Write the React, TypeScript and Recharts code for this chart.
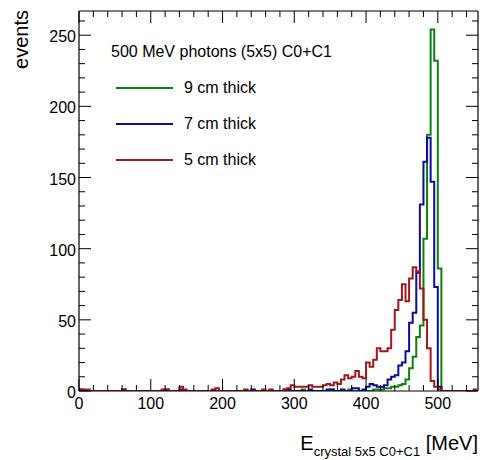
import React from 'react';
import { LineChart, Line, XAxis, YAxis, Legend } from 'recharts';

const FONT = '"Liberation Sans", Arial, Helvetica, sans-serif';
const BIN = 5; // MeV per bin
const X_MAX = 556;
const Y_MAX = 267;

// non-empty bins: [low edge in MeV, events]
const thick9: [number, number][] = [
  [310, 1], [350, 1], [375, 1], [410, 1], [415, 1], [420, 1], [425, 2], [430, 2],
  [435, 3], [440, 3], [445, 4], [450, 5], [455, 8], [460, 16], [465, 24], [470, 38],
  [475, 46], [480, 107], [485, 180], [490, 254], [495, 232], [500, 86],
];

const thick7: [number, number][] = [
  [0, 1], [60, 1], [120, 1], [140, 1], [240, 1], [285, 1], [290, 1], [320, 1],
  [345, 1], [350, 1], [365, 1], [380, 2], [385, 2], [395, 1], [400, 3], [405, 5],
  [410, 4], [415, 3], [420, 3], [425, 4], [430, 8], [435, 10], [440, 11], [445, 18],
  [450, 20], [455, 28], [460, 48], [465, 55], [470, 83], [475, 131], [480, 161],
  [485, 178], [490, 147], [495, 73], [500, 3],
];

const thick5: [number, number][] = [
  [0, 1], [5, 1], [10, 1], [60, 1], [115, 1], [120, 1], [140, 3], [145, 1],
  [185, 1], [190, 2], [230, 1], [255, 1], [265, 1], [285, 1], [290, 2], [295, 4],
  [300, 3], [305, 3], [310, 3], [315, 3], [320, 4], [325, 3], [330, 3], [335, 3],
  [340, 4], [345, 5], [350, 4], [355, 6], [360, 5], [365, 8], [370, 11], [375, 9],
  [380, 10], [385, 14], [390, 10], [395, 9], [400, 20], [405, 17], [410, 22], [415, 30],
  [420, 28], [425, 28], [430, 30], [435, 43], [440, 57], [445, 64], [450, 75], [455, 63],
  [460, 79], [465, 87], [470, 84], [475, 72], [480, 50], [485, 30], [490, 7], [495, 3],
  [500, 1], [550, 1],
];

const series = [
  { key: 't9', name: '9 cm thick', color: '#0b820b', bins: thick9 },
  { key: 't7', name: '7 cm thick', color: '#0c0c9c', bins: thick7 },
  { key: 't5', name: '5 cm thick', color: '#a3161a', bins: thick5 },
];

const xLabels = [0, 100, 200, 300, 400, 500];
const yLabels = [0, 50, 100, 150, 200, 250];
const xTicks = Array.from({ length: 28 }, (_, i) => i * 20);
const yTicks = Array.from({ length: 27 }, (_, i) => i * 10);

// histogram edges 0..555, last edge repeats the last bin so the step closes
const edges = Array.from({ length: 112 }, (_, i) => i * BIN);
const maps = series.map((s) => new Map(s.bins));
const rows = edges.map((e, i) => {
  const src = i === edges.length - 1 ? e - BIN : e;
  const row: Record<string, number> = { e };
  series.forEach((s, k) => {
    row[s.key] = maps[k].get(src) ?? 0;
  });
  return row;
});

const BottomTick = (p: any) => {
  const v = p.payload.value;
  const major = xLabels.includes(v);
  return (
    <g>
      <line x1={p.x} x2={p.x} y1={p.y} y2={p.y - (major ? 12 : 6)} stroke="#000" />
      {major && (
        <text x={p.x} y={p.y + 18} textAnchor="middle" fontSize={16} fontFamily={FONT} fill="#000">
          {v}
        </text>
      )}
    </g>
  );
};

const TopTick = (p: any) => {
  const major = xLabels.includes(p.payload.value);
  return <line x1={p.x} x2={p.x} y1={p.y} y2={p.y + (major ? 12 : 6)} stroke="#000" />;
};

const LeftTick = (p: any) => {
  const v = p.payload.value;
  const major = yLabels.includes(v);
  return (
    <g>
      <line x1={p.x} x2={p.x + (major ? 12 : 6)} y1={p.y} y2={p.y} stroke="#000" />
      {major && (
        <text x={p.x - 3} y={p.y + 7} textAnchor="end" fontSize={16} fontFamily={FONT} fill="#000">
          {v}
        </text>
      )}
    </g>
  );
};

const RightTick = (p: any) => {
  const major = yLabels.includes(p.payload.value);
  return <line x1={p.x} x2={p.x - (major ? 12 : 6)} y1={p.y} y2={p.y} stroke="#000" />;
};

const XTitle = () => (
  <text x={478} y={450} textAnchor="end" fontFamily={FONT} fill="#000" fontSize={20}>
    E
    <tspan fontSize={13} dy={6}>crystal 5x5 C0+C1</tspan>
    <tspan fontSize={20} dy={-6}> [MeV]</tspan>
  </text>
);

const YTitle = () => (
  <text
    x={28}
    y={10}
    transform="rotate(-90, 28, 10)"
    textAnchor="end"
    fontFamily={FONT}
    fill="#000"
    fontSize={20}
  >
    events
  </text>
);

const LegendBox = (props: any) => {
  const payload = props.payload || [];
  const rowY = [88, 124, 160];
  return (
    <div style={{ position: 'relative', width: 499, height: 180, fontFamily: FONT, color: '#000' }}>
      <div style={{ position: 'absolute', left: 111, top: 44, fontSize: 16, lineHeight: '16px', whiteSpace: 'nowrap' }}>
        500 MeV photons (5x5) C0+C1
      </div>
      {payload.map((entry: any, i: number) => (
        <React.Fragment key={entry.value}>
          <div
            style={{
              position: 'absolute',
              left: 116,
              top: rowY[i] - 1,
              width: 57,
              height: 2,
              background: entry.color,
            }}
          />
          <div
            style={{
              position: 'absolute',
              left: 184,
              top: rowY[i] - 8,
              fontSize: 16,
              lineHeight: '16px',
              whiteSpace: 'nowrap',
            }}
          >
            {entry.value}
          </div>
        </React.Fragment>
      ))}
    </div>
  );
};

const legendOrder = (item: any) => series.findIndex((s) => s.name === item.value);

export default function App() {
  return (
    <div style={{ position: 'absolute', left: 0, top: 0, width: 499, height: 460, background: '#fff' }}>
      <LineChart
        width={499}
        height={460}
        data={rows}
        margin={{ top: 10, right: 20, bottom: 68, left: 78 }}
        style={{ fontFamily: FONT }}
      >
        <XAxis
          xAxisId="b"
          dataKey="e"
          type="number"
          domain={[0, X_MAX]}
          ticks={xTicks}
          interval={0}
          height={1}
          tickSize={0}
          tickMargin={0}
          tickLine={false}
          axisLine={{ stroke: '#000', strokeWidth: 1.2 }}
          tick={(p: any) => <BottomTick {...p} />}
          allowDataOverflow
          label={{ content: () => <XTitle /> }}
        />
        <XAxis
          xAxisId="t"
          orientation="top"
          dataKey="e"
          type="number"
          domain={[0, X_MAX]}
          ticks={xTicks}
          interval={0}
          height={1}
          tickSize={0}
          tickMargin={0}
          tickLine={false}
          axisLine={{ stroke: '#000', strokeWidth: 1.2 }}
          tick={(p: any) => <TopTick {...p} />}
          allowDataOverflow
        />
        <YAxis
          yAxisId="l"
          type="number"
          domain={[0, Y_MAX]}
          ticks={yTicks}
          interval={0}
          width={1}
          tickSize={0}
          tickMargin={0}
          tickLine={false}
          axisLine={{ stroke: '#000', strokeWidth: 1.2 }}
          tick={(p: any) => <LeftTick {...p} />}
          allowDataOverflow
          label={{ content: () => <YTitle /> }}
        />
        <YAxis
          yAxisId="r"
          orientation="right"
          type="number"
          domain={[0, Y_MAX]}
          ticks={yTicks}
          interval={0}
          width={1}
          tickSize={0}
          tickMargin={0}
          tickLine={false}
          axisLine={{ stroke: '#000', strokeWidth: 1.2 }}
          tick={(p: any) => <RightTick {...p} />}
          allowDataOverflow
        />
        {series.map((s) => (
          <Line
            key={s.key}
            xAxisId="b"
            yAxisId="l"
            type="stepAfter"
            dataKey={s.key}
            name={s.name}
            stroke={s.color}
            strokeWidth={2}
            dot={false}
            activeDot={false}
            isAnimationActive={false}
          />
        ))}
        <Legend
          layout="vertical"
          align="center"
          verticalAlign="middle"
          itemSorter={legendOrder}
          content={(p: any) => <LegendBox {...p} />}
          wrapperStyle={{ left: 0, top: 0, width: 499, height: 180 }}
        />
      </LineChart>
    </div>
  );
}
